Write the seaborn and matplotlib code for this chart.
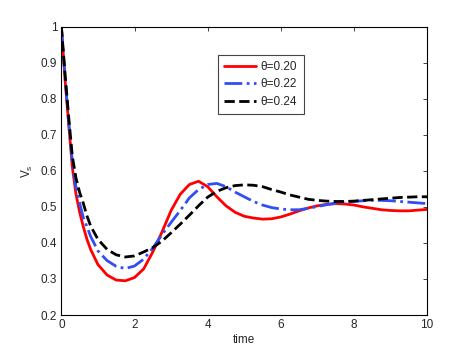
import pandas as pd
import matplotlib
matplotlib.use("Agg")
import matplotlib.pyplot as plt
import seaborn as sns

# time grid and read-off values of V_s for each theta
time = [0.0, 0.1, 0.2, 0.3, 0.4, 0.5, 0.6, 0.7, 0.8,
        1.0, 1.25, 1.5, 1.75, 2.0, 2.25, 2.5, 2.75, 3.0, 3.25, 3.5, 3.75,
        4.0, 4.25, 4.5, 4.75, 5.0, 5.25, 5.5, 5.75, 6.0, 6.25, 6.5, 6.75,
        7.0, 7.25, 7.5, 7.75, 8.0, 8.25, 8.5, 8.75, 9.0, 9.25, 9.5, 9.75, 10.0]

vs_020 = [1.0, 0.855, 0.73, 0.61, 0.535, 0.485, 0.445, 0.41, 0.382,
          0.34, 0.311, 0.297, 0.295, 0.304, 0.328, 0.375, 0.43, 0.49, 0.535, 0.562, 0.571,
          0.556, 0.528, 0.503, 0.485, 0.474, 0.469, 0.466, 0.467, 0.472, 0.480, 0.489, 0.497,
          0.503, 0.507, 0.509, 0.508, 0.505, 0.500, 0.496, 0.492, 0.490, 0.489, 0.489, 0.491, 0.493]

vs_022 = [1.0, 0.86, 0.735, 0.625, 0.555, 0.51, 0.47, 0.445, 0.418,
          0.378, 0.351, 0.335, 0.329, 0.336, 0.355, 0.386, 0.423, 0.457, 0.49, 0.525, 0.548,
          0.562, 0.565, 0.556, 0.541, 0.528, 0.515, 0.505, 0.498, 0.494, 0.492, 0.492, 0.496,
          0.501, 0.506, 0.510, 0.513, 0.515, 0.517, 0.518, 0.518, 0.517, 0.515, 0.513, 0.511, 0.509]

vs_024 = [1.0, 0.87, 0.75, 0.64, 0.58, 0.54, 0.51, 0.475, 0.447,
          0.41, 0.382, 0.367, 0.361, 0.364, 0.375, 0.387, 0.405, 0.428, 0.452, 0.477, 0.503,
          0.527, 0.543, 0.553, 0.559, 0.561, 0.560, 0.556, 0.548, 0.541, 0.533, 0.527, 0.521,
          0.518, 0.516, 0.515, 0.515, 0.516, 0.518, 0.520, 0.522, 0.524, 0.526, 0.527, 0.528, 0.528]

labels = ["θ=0.20", "θ=0.22", "θ=0.24"]

sns.set_style("white")
plt.rcParams["font.family"] = ["Liberation Sans", "DejaVu Sans"]
plt.rcParams["mathtext.fontset"] = "custom"
plt.rcParams["mathtext.rm"] = "Liberation Sans"

fig = plt.figure(figsize=(4.72, 3.54), dpi=100)
ax = fig.add_axes([0.13, 0.11, 0.775, 0.815])

df = pd.DataFrame({"time": time, labels[0]: vs_020, labels[1]: vs_022, labels[2]: vs_024})

sns.lineplot(data=df, x="time", y=labels[0], ax=ax, color="red", linestyle="-", lw=2, label=labels[0])
sns.lineplot(data=df, x="time", y=labels[1], ax=ax, color="#2f4ff5", linestyle="-.", lw=2, label=labels[1])
sns.lineplot(data=df, x="time", y=labels[2], ax=ax, color="black", linestyle="--", lw=2, label=labels[2])

ax.set_xlim(0, 10)
ax.set_ylim(0.2, 1)
ax.set_xticks([0, 2, 4, 6, 8, 10])
ax.set_yticks([0.2, 0.3, 0.4, 0.5, 0.6, 0.7, 0.8, 0.9, 1.0])
ax.set_yticklabels(["0.2", "0.3", "0.4", "0.5", "0.6", "0.7", "0.8", "0.9", "1"])
ax.tick_params(direction="in", top=True, right=True, length=3, width=0.6, labelsize=8.5, pad=3)
for s in ax.spines.values():
    s.set_linewidth(0.8)
    s.set_color("black")

ax.set_xlabel("time", fontsize=8.5, labelpad=2)
ax.set_ylabel(r"V$_{\mathregular{s}}$", fontsize=8.5, labelpad=4)

leg = ax.legend(loc="upper left", bbox_to_anchor=(0.427, 0.903), borderaxespad=0, fontsize=8.5,
                fancybox=False, framealpha=1, edgecolor="#444444",
                handlelength=2.7, handletextpad=0.4, borderpad=0.55, labelspacing=0.45)
leg.get_frame().set_linewidth(0.8)

fig.savefig("out.png", dpi=100)
